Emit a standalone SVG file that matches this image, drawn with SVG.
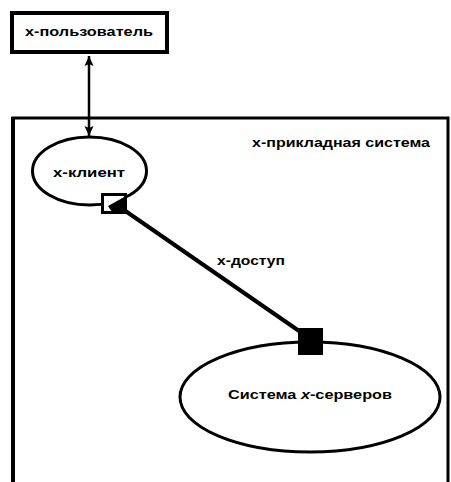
<svg xmlns="http://www.w3.org/2000/svg" width="451" height="482" viewBox="0 0 451 482">
<style>
.t{font-family:"Liberation Sans",Arial,sans-serif;font-weight:bold;font-size:12.5px;fill:#000}
.s{fill:none;stroke:#000}
</style>
<defs>
<marker id="arr" viewBox="0 0 10 10" refX="10" refY="5" markerWidth="10" markerHeight="10" markerUnits="userSpaceOnUse" orient="auto-start-reverse">
<path d="M0,0.5 L10,5 L0,9.5 L2,5 Z" fill="#000"/>
</marker>
</defs>
<rect width="451" height="482" fill="#fff"/>
<g id="system">
<path class="s" d="M13,486 V118 H448 V486" stroke-width="3"/>
<line x1="13" y1="117" x2="13" y2="486" stroke="#000" stroke-width="4"/>
<text class="t" x="252" y="147" textLength="178" lengthAdjust="spacingAndGlyphs">x-прикладная система</text>
</g>
<g id="user">
<rect x="12" y="13" width="155" height="39" fill="#fff" stroke="#000" stroke-width="4"/>
<text class="t" x="25" y="36" textLength="128" lengthAdjust="spacingAndGlyphs">x-пользователь</text>
</g>
<g id="client">
<ellipse class="s" cx="89.5" cy="171" rx="57" ry="34" stroke-width="3"/>
<text class="t" x="53" y="177" textLength="72" lengthAdjust="spacingAndGlyphs">x-клиент</text>
</g>
<g id="server">
<ellipse class="s" cx="310" cy="397" rx="130" ry="55" stroke-width="3"/>
<text class="t" x="228" y="399" textLength="164" lengthAdjust="spacingAndGlyphs">Система <tspan font-style="italic">x</tspan>-серверов</text>
</g>
<g id="connectors">
<line x1="89" y1="56" x2="89" y2="136" stroke="#000" stroke-width="2.5" marker-start="url(#arr)" marker-end="url(#arr)"/>
<line x1="124" y1="210" x2="302" y2="333" stroke="#000" stroke-width="4"/>
<text class="t" x="217" y="265" textLength="68" lengthAdjust="spacingAndGlyphs">x-доступ</text>
</g>
<g id="client-port">
<rect x="102.5" y="194.5" width="23" height="18" fill="#fff" stroke="#000" stroke-width="3"/>
<path d="M126,196 L108,206 L112,212 L126,212 Z" fill="#000"/>
</g>
<g id="server-port">
<rect x="298" y="328" width="25" height="27" fill="#000"/>
</g>
</svg>
